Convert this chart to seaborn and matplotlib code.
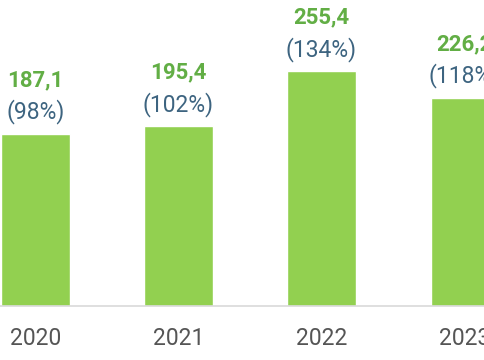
import pandas as pd
import matplotlib
matplotlib.use("Agg")
import matplotlib.pyplot as plt
import seaborn as sns

sns.set_theme(style="white")
plt.rcParams['font.family'] = ['Roboto', 'DejaVu Sans']

# Datos
anios = ["2020", "2021", "2022", "2023"]
valores = [187.1, 195.4, 255.4, 226.2]
porcentajes = ["(98%)", "(102%)", "(134%)", "(118%)"]

df = pd.DataFrame({"anio": anios, "valor": valores})

fig = plt.figure(figsize=(4.85, 3.6), dpi=100)
ax = fig.add_axes([0, 0.15, 1, 0.85])

sns.barplot(data=df, x="anio", y="valor", color="#92d050", width=0.476,
            saturation=1, ax=ax)

ax.set_xlim(-0.248, 3.143)
ax.set_ylim(0, 333)

# Etiquetas encima de cada barra
for p, v, pc in zip(ax.patches, valores, porcentajes):
    x = p.get_x() + p.get_width() / 2
    h = p.get_height()
    ax.annotate(f"{v:.1f}".replace(".", ","), (x, h), xytext=(0, 39),
                textcoords="offset points", ha="center", va="center",
                fontsize=16, fontweight="bold", color="#62ae45")
    ax.annotate(pc, (x, h), xytext=(0, 16), textcoords="offset points",
                ha="center", va="center", fontsize=16.5, color="#3d6480")

for s in ["top", "right", "left"]:
    ax.spines[s].set_visible(False)
ax.spines["bottom"].set_color("#d9d9d9")
ax.spines["bottom"].set_linewidth(1.2)

ax.set_yticks([])
ax.set_xlabel("")
ax.set_ylabel("")
ax.tick_params(axis="x", length=0, pad=15, labelsize=16.5, labelcolor="#555555")

fig.savefig("out.png", dpi=100)
